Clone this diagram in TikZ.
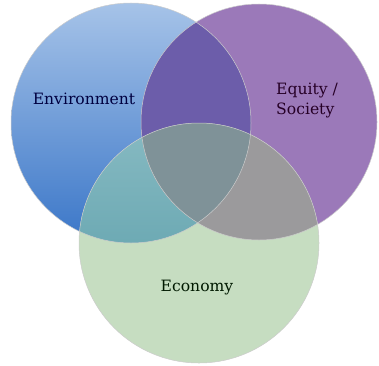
\documentclass[tikz,border=0pt]{standalone}
\usepackage{fontspec}
\setmainfont{DejaVu Serif}
\definecolor{envtop}{RGB}{166,195,232}
\definecolor{envbot}{RGB}{58,118,200}
\definecolor{eqcol}{RGB}{155,121,185}
\definecolor{ecocol}{RGB}{198,221,193}
\definecolor{enveq}{RGB}{108,93,170}
\definecolor{envecotop}{RGB}{135,186,194}
\definecolor{envecobot}{RGB}{84,154,166}
\definecolor{eqeco}{RGB}{155,154,156}
\definecolor{allcol}{RGB}{127,146,152}
\colorlet{rimcol}{black!20}
\tikzstyle{rim}=[draw=rimcol,line width=0.5pt]
\tikzstyle{lbl}=[font=\fontsize{15.6}{20}\selectfont,inner sep=0pt]

\begin{document}
\begin{tikzpicture}[x=1pt,y=1pt]
  \useasboundingbox (0,0) rectangle (379,365);
  \coordinate (env) at (131,242);
  \coordinate (eq) at (259,243);
  \coordinate (eco) at (199,122);
  % Circles
  \shade[top color=envtop,bottom color=envbot] (env) circle (120);
  \fill[eqcol] (eq) circle (118);
  \fill[ecocol] (eco) circle (120);
  % Overlaps
  \begin{scope}
    \clip (env) circle (120);
    \fill[enveq] (eq) circle (118);
    \shade[top color=envecotop,bottom color=envecobot] (eco) circle (120);
  \end{scope}
  \begin{scope}
    \clip (eq) circle (118);
    \fill[eqeco] (eco) circle (120);
    \clip (env) circle (120);
    \fill[allcol] (eco) circle (120);
  \end{scope}
  \path[rim] (env) circle (120);
  \path[rim] (eq) circle (118);
  \path[rim] (eco) circle (120);
  % Labels
  \node[lbl,text=blue!25!black] (envlbl) at (84,266) {Environment};
  \node[lbl,text=violet!30!black,align=left,anchor=west] (eqlbl) at (276,265) {Equity /\\Society};
  \node[lbl,text=green!10!black] (ecolbl) at (197,77) {Economy};
\end{tikzpicture}
\end{document}
